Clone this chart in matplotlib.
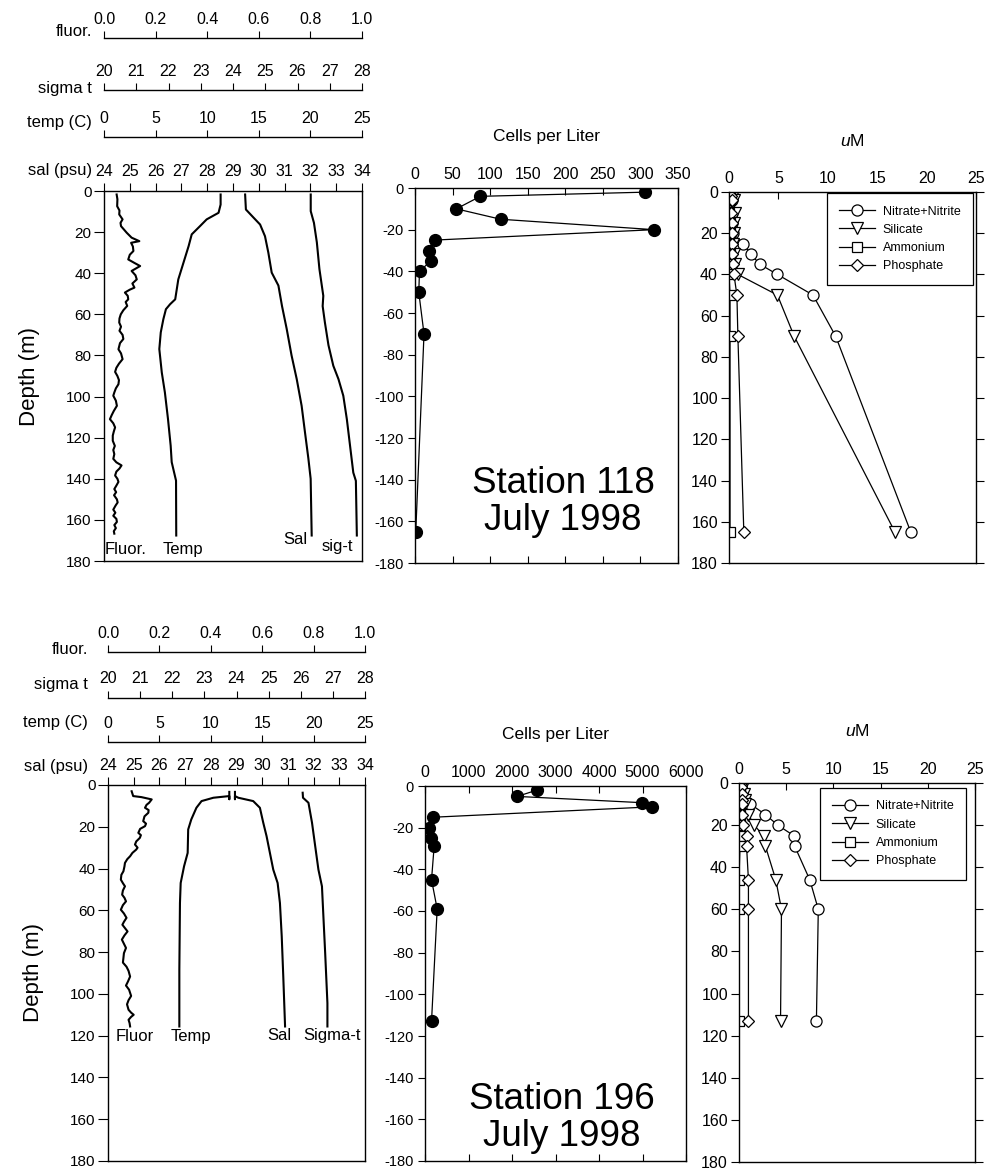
"""
Two-station CTD / cell count / nutrient profiles (Stations 118 and 196, July 1998).
"""
import matplotlib
matplotlib.use("Agg")
import matplotlib.pyplot as plt
import numpy as np
from matplotlib.ticker import MultipleLocator, FormatStrFormatter

plt.rcParams.update({
    "font.family": ["Liberation Sans", "DejaVu Sans"],
    "axes.unicode_minus": False,
    "mathtext.fontset": "custom",
    "mathtext.rm": "Liberation Sans",
    "mathtext.it": "Liberation Sans:italic",
    "axes.linewidth": 1.0,
})

FIG_W, FIG_H = 985, 1170

# ---------------- Station 118 : CTD ----------------
fluor118_depth = [1.7, 4, 7.4, 9.5, 11.4, 13.8, 15.5, 17.1, 20.3, 22.7, 24.4, 25.2, 27, 29.2, 31, 33.3,
                  35, 36.5, 38.9, 41, 43, 45, 47, 48, 49.4, 51, 52.7, 54, 55.9, 58, 60, 62, 64, 66,
                  68, 70, 72, 74, 77, 79, 81.8, 84, 86, 88, 90, 92, 94, 96, 98, 99.6, 102, 104.5,
                  107, 109, 111, 113, 115, 117, 119, 121.5, 124, 126, 128, 130.3, 132, 133.5, 135,
                  136.5, 138.4, 140, 141.5, 143.3, 145, 146.5, 148, 150, 151.5, 153, 155, 156.5,
                  158, 159.5, 161, 162.5, 164, 165.5, 166.7]
fluor118 = [0.049, 0.052, 0.051, 0.060, 0.059, 0.072, 0.064, 0.066, 0.088, 0.107, 0.137, 0.105,
            0.112, 0.114, 0.100, 0.094, 0.118, 0.140, 0.107, 0.122, 0.127, 0.110, 0.118, 0.100,
            0.081, 0.092, 0.094, 0.084, 0.090, 0.075, 0.065, 0.060, 0.059, 0.066, 0.060, 0.072,
            0.075, 0.062, 0.056, 0.066, 0.072, 0.058, 0.048, 0.043, 0.052, 0.058, 0.056, 0.046,
            0.040, 0.036, 0.046, 0.050, 0.038, 0.030, 0.023, 0.036, 0.043, 0.038, 0.034, 0.034,
            0.042, 0.036, 0.040, 0.036, 0.048, 0.068, 0.060, 0.048, 0.043, 0.052, 0.056, 0.048,
            0.040, 0.047, 0.039, 0.050, 0.053, 0.045, 0.036, 0.044, 0.036, 0.048, 0.050, 0.040,
            0.046, 0.038, 0.040]

temp118_depth = [1.7, 6.6, 10.6, 13.8, 17.1, 21.1, 26.8, 34.9, 43, 52.7, 55.1, 57.5, 62.4, 68.8,
                 76.9, 88.3, 98, 110.9, 123.9, 131.9, 140.9, 167.6]
temp118 = [11.3, 11.3, 11.1, 9.95, 9.3, 8.5, 8.2, 7.7, 7.2, 6.9, 6.4, 6.0, 5.75, 5.5, 5.36, 5.6,
           5.9, 6.2, 6.46, 6.56, 6.98, 7.0]

sal118_depth = [1.7, 9, 13, 16.3, 22, 30, 39.7, 46, 56, 67, 80, 91.5, 104.5, 117.4, 130, 140, 167.6]
sal118 = [29.47, 29.5, 29.8, 30.05, 30.24, 30.37, 30.5, 30.76, 30.9, 31.08, 31.27, 31.47, 31.66,
          31.79, 31.92, 32.01, 32.05]

sig118_depth = [1.7, 9.8, 15.5, 25, 38, 51, 56, 64, 75, 85, 91.5, 99.6, 111, 124, 137, 141, 167.6]
sig118 = [26.41, 26.41, 26.51, 26.6, 26.68, 26.8, 26.78, 26.85, 26.96, 27.11, 27.27, 27.42, 27.53,
          27.63, 27.73, 27.81, 27.84]

# ---------------- Station 196 : CTD ----------------
fluor196_depth = [3.0, 5.3, 5.8, 6.9, 8.5, 9.5, 10.9, 12, 13.3, 15, 17.3, 18.5, 19.7, 21, 22.9, 24,
                  25.3, 27, 28.5, 30, 30.9, 32.5, 34.1, 35.5, 37.3, 39, 41.3, 43, 45.3, 47, 48.5,
                  50.5, 52.5, 54, 55.7, 57.5, 59.7, 61.5, 63.6, 65.5, 66.9, 68.5, 70.1, 72, 74, 76,
                  78, 80.5, 82.8, 85, 87, 89, 91.7, 94, 96, 98, 101, 103, 105, 107.6, 109, 110,
                  111, 112.4, 114, 115.6]
fluor196 = [0.092, 0.098, 0.130, 0.170, 0.160, 0.150, 0.144, 0.158, 0.157, 0.142, 0.137, 0.148,
            0.144, 0.125, 0.118, 0.128, 0.124, 0.110, 0.105, 0.115, 0.110, 0.095, 0.086, 0.075,
            0.066, 0.064, 0.060, 0.052, 0.050, 0.058, 0.066, 0.058, 0.055, 0.064, 0.070, 0.058,
            0.050, 0.062, 0.072, 0.062, 0.056, 0.066, 0.076, 0.064, 0.054, 0.062, 0.070, 0.062,
            0.060, 0.058, 0.072, 0.080, 0.086, 0.078, 0.070, 0.082, 0.090, 0.080, 0.074, 0.080,
            0.090, 0.100, 0.090, 0.080, 0.084, 0.086]

temp196_depth = [3.3, 6.8, 5.3, 6.1, 7.7, 10.9, 16.5, 21.3, 32.5, 38.9, 46.9, 56.5, 88.4, 115.6]
temp196 = [11.8, 11.8, 11.8, 10.25, 9.1, 8.6, 8.1, 7.8, 7.75, 7.4, 7.07, 7.0, 6.94, 6.94]

sal196_depth = [3.3, 6.8, 5.3, 6.1, 7.7, 10.9, 18, 24.5, 32.5, 40.5, 46.9, 56.5, 72.5, 91.7, 115.6]
sal196 = [28.94, 28.94, 28.94, 29.07, 29.65, 29.91, 30.04, 30.17, 30.3, 30.43, 30.6, 30.69, 30.76,
          30.82, 30.89]

sig196_depth = [3.7, 6.1, 8.5, 18, 29.3, 40.5, 48.5, 64.5, 80.4, 104.4, 115.6]
sig196 = [26.06, 26.07, 26.24, 26.35, 26.45, 26.55, 26.66, 26.71, 26.76, 26.83, 26.83]

# ---------------- Cell counts ----------------
cells118_depth = [2, 4, 10, 15, 20, 25, 30, 35, 40, 50, 70, 165]
cells118 = [306, 87, 55, 114, 318, 26, 19, 21, 6, 5, 12, 1]

cells196_depth = [2, 5, 8, 10, 15, 20, 25, 29, 45, 59, 113]
cells196 = [2570, 2120, 4980, 5220, 180, 100, 130, 210, 150, 280, 150]

# ---------------- Nutrients (uM) ----------------
nut118_depth = [2, 4, 10, 15, 20, 25, 30, 35, 40, 50, 70, 165]
nitrate118 = [0.2, 0.3, 0.3, 0.3, 0.4, 1.4, 2.2, 3.1, 4.9, 8.5, 10.8, 18.4]
silicate118 = [0.4, 0.5, 0.6, 0.5, 0.5, 0.4, 0.5, 0.6, 0.9, 4.9, 6.6, 16.8]
ammonium118 = [0.1, 0.1, 0.0, 0.1, 0.1, 0.0, 0.1, 0.1, 0.0, 0.1, 0.1, 0.1]
phosphate118 = [0.2, 0.3, 0.2, 0.3, 0.3, 0.3, 0.3, 0.4, 0.5, 0.8, 0.9, 1.5]

nut196_depth = [0, 2, 5, 8, 10, 15, 20, 25, 30, 46, 60, 113]
nitrate196 = [0.2, 0.2, 0.3, 0.5, 1.2, 2.8, 4.1, 5.8, 5.9, 7.5, 8.4, 8.2]
silicate196 = [0.3, 0.4, 0.5, 0.6, 0.6, 1.0, 1.6, 2.6, 2.8, 3.9, 4.5, 4.4]
ammonium196 = [0.1, 0.1, 0.1, 0.1, 0.1, 0.1, 0.1, 0.1, 0.1, 0.0, 0.0, 0.0]
phosphate196 = [0.2, 0.2, 0.3, 0.3, 0.3, 0.3, 0.4, 0.8, 0.8, 1.0, 1.0, 1.0]

NUT_NAMES = ["Nitrate+Nitrite", "Silicate", "Ammonium", "Phosphate"]


def rect(x0, y0, x1, y1):
    return [x0 / FIG_W, 1 - y1 / FIG_H, (x1 - x0) / FIG_W, (y1 - y0) / FIG_H]


def ctd_panel(fig, box, offsets, label_px, data, curve_labels):
    ax = fig.add_axes(rect(*box))
    (fd, fv), (td, tv), (sd, sv), (gd, gv) = data

    # extra scales stacked above the frame: temp, sigma-t, fluorescence
    specs = [((0, 25), 5, "%d", td, tv, offsets[0]),
             ((20, 28), 1, "%d", gd, gv, offsets[1]),
             ((0, 1), 0.2, "%.1f", fd, fv, offsets[2])]
    for lim, step, fmt, d, v, off in specs:
        t = ax.twiny()
        t.set_xlim(*lim)
        t.spines["top"].set_position(("outward", off))
        for s in ("left", "right", "bottom"):
            t.spines[s].set_visible(False)
        t.xaxis.set_major_locator(MultipleLocator(step))
        t.xaxis.set_major_formatter(FormatStrFormatter(fmt))
        t.tick_params(axis="x", direction="out", length=5, pad=3, labelsize=11.5)
        t.plot(v, d, color="k", lw=1.5)

    # twiny() pushes the host's ticks to the bottom, so set them afterwards
    ax.set_xlim(24, 34)
    ax.set_ylim(180, 0)
    ax.xaxis.set_major_locator(MultipleLocator(1))
    ax.yaxis.set_major_locator(MultipleLocator(20))
    ax.xaxis.set_ticks_position("top")
    ax.tick_params(axis="x", top=True, bottom=False, labeltop=True, labelbottom=False,
                   direction="out", length=6, pad=3, labelsize=11.5)
    ax.tick_params(axis="y", direction="out", length=7, pad=2, labelsize=11)
    ax.set_ylabel("Depth (m)", fontsize=16)
    ax.yaxis.set_label_coords(-0.25, 0.5)
    ax.plot(sv, sd, color="k", lw=1.5)

    for name, y in zip(["fluor.", "sigma t", "temp (C)", "sal (psu)"], label_px[1]):
        fig.text(label_px[0] / FIG_W, 1 - y / FIG_H, name, ha="right", va="center", fontsize=12)

    for txt, x, y in curve_labels:
        ax.text(x, y, txt, transform=ax.transAxes, ha="left", va="center", fontsize=12)
    return ax


def cells_panel(fig, box, xmax, step, depth, cells, station_xy, station):
    ax = fig.add_axes(rect(*box))
    ax.plot(cells, -np.asarray(depth), color="k", lw=0.9, marker="o", ms=8.5,
            mfc="k", mec="k")
    ax.set_xlim(0, xmax)
    ax.set_ylim(-180, 0)
    ax.xaxis.set_major_locator(MultipleLocator(step))
    ax.yaxis.set_major_locator(MultipleLocator(20))
    ax.tick_params(axis="x", top=True, bottom=True, labeltop=True, labelbottom=False,
                   direction="in", length=5, pad=4, labelsize=11.5)
    ax.tick_params(axis="y", direction="out", length=5, pad=3, labelsize=10.5)
    ax.xaxis.set_label_position("top")
    ax.set_xlabel("Cells per Liter", fontsize=12.5)
    ax.xaxis.set_label_coords(0.5, 1.125)
    ax.text(station_xy[0], station_xy[1], f"Station {station}\nJuly 1998",
            transform=ax.transAxes, ha="center", va="center", fontsize=26.5, linespacing=1.1)
    return ax


def nutrient_panel(fig, box, depth, series, legend_anchor):
    ax = fig.add_axes(rect(*box))
    markers = [("o", 8), ("v", 8), ("s", 7), ("D", 6.5)]
    for vals, (m, ms), name in zip(series, markers, NUT_NAMES):
        ax.plot(vals, depth, color="k", lw=0.9, marker=m, ms=ms, mfc="white", mec="k",
                mew=0.9, label=name)
    ax.set_xlim(0, 25)
    ax.set_ylim(180, 0)
    ax.xaxis.set_major_locator(MultipleLocator(5))
    ax.yaxis.set_major_locator(MultipleLocator(20))
    ax.tick_params(axis="x", top=True, bottom=False, labeltop=True, labelbottom=False,
                   direction="in", length=5, pad=4, labelsize=11.5)
    ax.tick_params(axis="y", left=True, right=True, direction="out", length=6, pad=2,
                   labelsize=11.5)
    ax.xaxis.set_label_position("top")
    ax.set_xlabel(r"$\mathit{u}$M", fontsize=12.5)
    ax.xaxis.set_label_coords(0.5, 1.125)
    leg = ax.legend(loc="upper right", bbox_to_anchor=legend_anchor, borderaxespad=0,
                    fontsize=9, handlelength=2.9, handletextpad=0.6, labelspacing=0.5,
                    borderpad=1.0, fancybox=False, framealpha=1)
    leg.get_frame().set_edgecolor("k")
    leg.get_frame().set_linewidth(0.9)
    return ax


def main() -> None:
    fig = plt.figure(figsize=(FIG_W / 100, FIG_H / 100), dpi=100)

    # Station 118 (top row)
    ctd_panel(fig, (104, 191, 362, 561), (39, 73, 110),
              (92, [31, 89, 122, 170]),
              [(fluor118_depth, fluor118), (temp118_depth, temp118),
               (sal118_depth, sal118), (sig118_depth, sig118)],
              [("Fluor.", 0.004, 0.030), ("Temp", 0.229, 0.030),
               ("Sal", 0.694, 0.057), ("sig-t", 0.845, 0.038)])
    cells_panel(fig, (415, 188, 678, 563), 350, 50, cells118_depth, cells118,
                (0.563, 0.163), 118)
    nutrient_panel(fig, (729, 192, 976, 563), nut118_depth,
                   [nitrate118, silicate118, ammonium118, phosphate118], (0.988, 0.997))

    # Station 196 (bottom row)
    ctd_panel(fig, (108, 785, 365, 1161), (31, 63, 96),
              (88, [649, 684, 722, 766]),
              [(fluor196_depth, fluor196), (temp196_depth, temp196),
               (sal196_depth, sal196), (sig196_depth, sig196)],
              [("Fluor", 0.031, 0.330), ("Temp", 0.245, 0.330),
               ("Sal", 0.619, 0.335), ("Sigma-t", 0.759, 0.335)])
    cells_panel(fig, (425, 786, 686, 1161), 6000, 1000, cells196_depth, cells196,
                (0.525, 0.115), 196)
    nutrient_panel(fig, (739, 783, 975, 1162), nut196_depth,
                   [nitrate196, silicate196, ammonium196, phosphate196], (0.962, 0.987))

    fig.savefig("out.png", dpi=100)
    plt.close(fig)


if __name__ == "__main__":
    main()
